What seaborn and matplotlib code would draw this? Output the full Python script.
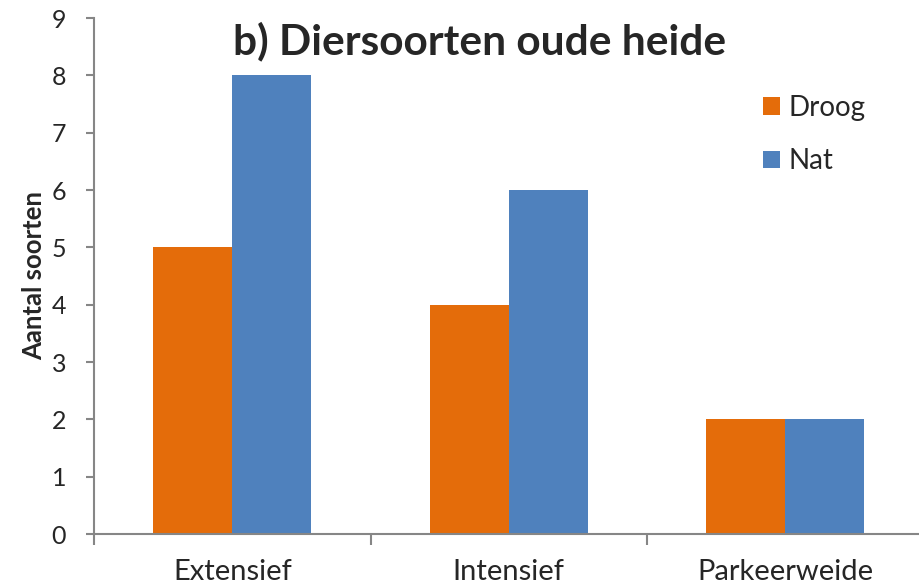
import pandas as pd
import matplotlib.pyplot as plt
import seaborn as sns

# data
categories = ["Extensief", "Intensief", "Parkeerweide"]
droog = [5, 4, 2]
nat = [8, 6, 2]
series_names = ["Droog", "Nat"]
colors = ["#E46C0A", "#4F81BD"]

df = pd.DataFrame({
    "Beheer": categories * 2,
    "Conditie": [series_names[0]] * 3 + [series_names[1]] * 3,
    "Aantal": droog + nat,
})

sns.set_style("white")
plt.rcParams["font.family"] = ["Lato", "DejaVu Sans"]

fig = plt.figure(figsize=(9.19, 5.88), dpi=100)
ax = fig.add_axes([94 / 919, 1 - 534 / 588, 829.5 / 919, 516 / 588])

sns.barplot(data=df, x="Beheer", y="Aantal", hue="Conditie",
            palette=colors, width=0.57, saturation=1,
            edgecolor="none", ax=ax)

ax.set_xlim(-0.5, 2.5)
ax.set_ylim(0, 9)
ax.set_yticks(range(0, 10))

# category ticks between the groups, labels in the middle
ax.set_xticks([-0.5, 0.5, 1.5, 2.5])
ax.set_xticklabels([])
ax.set_xticks([0, 1, 2], minor=True)
ax.set_xticklabels(categories, minor=True, fontsize=21)
ax.tick_params(axis="x", which="major", direction="out", length=8,
               width=1.5, color="#868686", bottom=True)
ax.tick_params(axis="x", which="minor", length=0, pad=18)
ax.tick_params(axis="y", direction="out", length=6, width=1.5,
               color="#868686", left=True, labelsize=18, pad=14)

for side in ["top", "right"]:
    ax.spines[side].set_visible(False)
for side in ["left", "bottom"]:
    ax.spines[side].set_color("#868686")
    ax.spines[side].set_linewidth(1.5)

ax.set_xlabel("")
ax.set_ylabel("Aantal soorten", fontsize=18.5, fontweight="bold", labelpad=4)

ax.text(0.465, 0.955, "b) Diersoorten oude heide", transform=ax.transAxes,
        ha="center", va="center", fontsize=30.5, fontweight="bold")

ax.legend(loc="upper right", bbox_to_anchor=(0.96, 0.9), frameon=False,
          fontsize=20, handlelength=0.6, handleheight=0.6,
          handletextpad=0.3, labelspacing=1.0)

fig.savefig("out.png", dpi=100)
